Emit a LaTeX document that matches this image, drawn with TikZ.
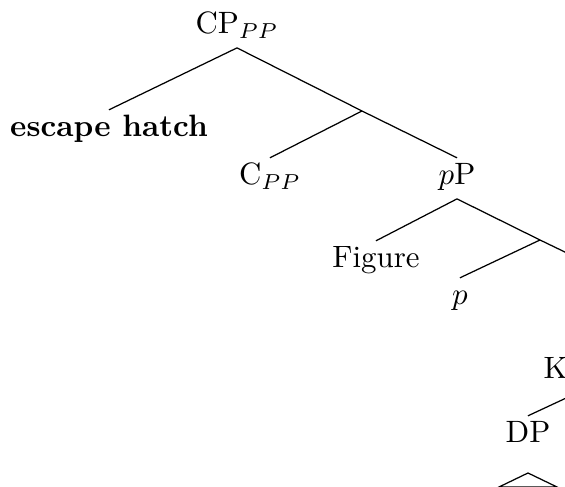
\documentclass[tikz,border=0pt]{standalone}
\begin{document}
% Coordinates are given in units of about 1/3.09 pt, measured downward from the top-left corner.
\begin{tikzpicture}[x=0.3237pt, y=-0.3237pt,
  lbl/.style={anchor=base, inner sep=2.3pt, text height=6.3pt, text depth=2pt},
  branch/.style={line width=0.4pt}]
\clip (0,0) rectangle (565,487);

% labelled nodes
\node[lbl] (cp)  at (237,34)  {CP$_{PP}$};
\node[lbl] (esc) at (109,137) {\textbf{escape hatch}};
\node[lbl] (c)   at (270,185) {C$_{PP}$};
\node[lbl] (pp)  at (457,185) {$p$P};
\node[lbl] (fig) at (376,268) {Figure};
\node[lbl] (p)   at (460,305) {$p$};
\node[lbl, anchor=base west] (k) at (536,379) {K};
\node[lbl] (dp)  at (528,443) {DP};

% unlabelled branch points and off-edge ends
\coordinate (cbar)  at (362,111);
\coordinate (pbar)  at (540,240);
\coordinate (pcomp) at (600,269);
\coordinate (kbar)  at (577,393);
\coordinate (roof)  at (528,473);

% branches
\draw[branch] (cp.south) -- (esc.north);
\draw[branch] (cp.south) -- (cbar) -- (pp.north);
\draw[branch] (cbar) -- (c.north);
\draw[branch] (pp.south) -- (fig.north);
\draw[branch] (pp.south) -- (pbar) -- (pcomp);
\draw[branch] (pbar) -- (p.north);
\draw[branch] (kbar) -- (dp.north);

% roof under DP
\draw[branch] (roof) -- ++(-29,14) -- ++(58,0) -- cycle;
\end{tikzpicture}
\end{document}
